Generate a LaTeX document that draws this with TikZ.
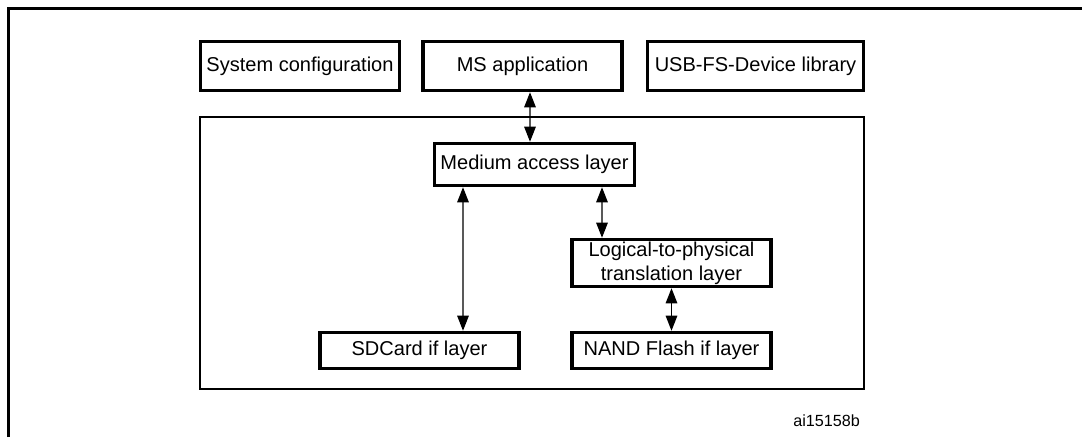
\documentclass[tikz,border=0pt]{standalone}
\usepackage{fontspec}
\setmainfont{Liberation Sans}
\usetikzlibrary{arrows.meta}

\begin{document}
\begin{tikzpicture}[
    every node/.style={font=\fontsize{11.4}{13.6}\selectfont},
    layer/.style={draw, line width=2pt, inner sep=0pt, minimum width=3.98cm, minimum height=0.98cm, align=center},
    link/.style={{Triangle[length=0.3cm, width=0.23cm]}-{Triangle[length=0.3cm, width=0.23cm]}, line width=0.75pt},
]

\useasboundingbox (0,0) rectangle (21.64,-8.74);

% Page frame (only top and left edges are visible)
\draw[line width=1.4pt] (0.166,-8.74) -- (0.166,-0.166) -- (21.64,-0.166);

% Top row of blocks
\node[layer] (sys) at (6.00,-1.32) {System configuration};
\node[layer] (ms) at (10.45,-1.32) {MS application};
\node[layer, minimum width=4.32cm] (usb) at (15.11,-1.32) {USB-FS-Device library};

% Thin container around the storage layers
\node[draw, line width=0.6pt, inner sep=0pt, minimum width=13.28cm, minimum height=5.44cm] (core) at (10.64,-5.06) {};

% Storage layers
\node[layer, minimum width=4.0cm, minimum height=0.84cm] (mal) at (10.69,-3.29) {Medium access layer};
\node[layer, minimum height=0.94cm] (l2p) at (13.43,-5.26) {Logical-to-physical\\translation layer};
\node[layer, minimum height=0.72cm] (sd) at (8.39,-7.01) {SDCard if layer};
\node[layer, minimum height=0.72cm] (nand) at (13.43,-7.01) {NAND Flash if layer};

% Figure reference
\node[font=\fontsize{9.2}{10}\selectfont, anchor=east] (ref) at (17.32,-8.42) {ai15158b};

% Two-way links
\draw[link] ([xshift=0.15cm]ms.south) -- ([xshift=-0.09cm]mal.north);
\draw[link] ([xshift=-1.43cm]mal.south) -- ([xshift=0.87cm]sd.north);
\draw[link] ([xshift=1.35cm]mal.south) -- ([xshift=-1.39cm]l2p.north);
\draw[link] (l2p) -- (nand);

\end{tikzpicture}
\end{document}
